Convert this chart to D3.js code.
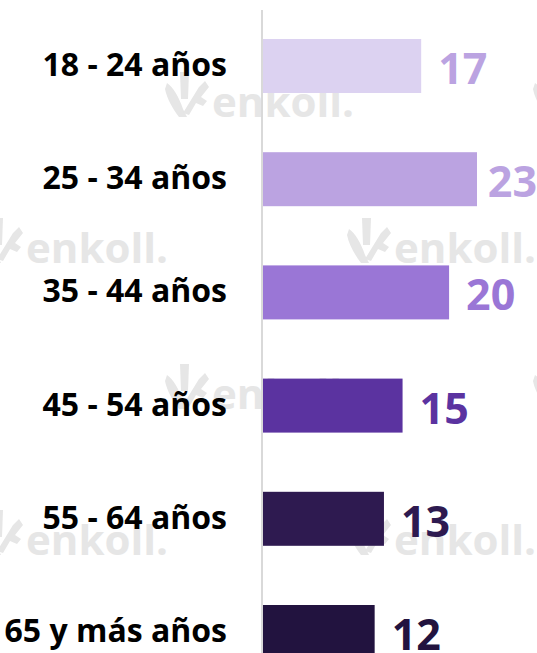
<!DOCTYPE html>
<html>
<head>
<meta charset="utf-8">
<script src="https://cdn.jsdelivr.net/npm/d3@7"></script>
<style>
  html, body { margin: 0; padding: 0; background: #fff; }
  svg { display: block; }
</style>
</head>
<body>
<div id="chart"></div>
<script>
// age groups and share of answers
const categories = ["18 - 24 años", "25 - 34 años", "35 - 44 años", "45 - 54 años", "55 - 64 años", "65 y más años"];
const values = [17, 23, 20, 15, 13, 12];
const barColors = ["#dcd2f1", "#bba3e1", "#9a76d6", "#5b33a0", "#2e1a50", "#22133f"];
const valueColors = ["#bba3e1", "#bba3e1", "#9a76d6", "#5b33a0", "#2e1a50", "#22133f"];

const w = 537;
const h = 653;

const svg = d3.select("#chart")
  .append("svg")
  .attr("width", w)
  .attr("height", h);

// watermark tiles (light gray logo)
const marks = [
  [165, 117], [533, 117],
  [-21, 263], [347, 263],
  [165, 409], [533, 409],
  [-21, 555], [347, 555]
];
const wm = svg.append("g").attr("fill", "#e6e6e6");
marks.forEach(m => {
  const g = wm.append("g").attr("transform", `translate(${m[0]}, ${m[1]})`);
  // left leaf
  g.append("path")
    .attr("d", "M2,-34 C8,-30 14,-20 18,-8 L22,0 L14,0 C8,-8 2,-18 0,-28 Z");
  // stem
  g.append("path")
    .attr("d", "M15,-45 L24,-45 L23,-18 L16,-18 Z");
  // right stroke with notch
  g.append("path")
    .attr("d", "M18,-4 L34,-30 L40,-36 L44,-30 L36,-20 L42,-16 L38,-11 L31,-14 L24,-2 Z");
  g.append("text")
    .attr("x", 47)
    .attr("y", 0)
    .attr("font-family", "'Open Sans', sans-serif")
    .attr("font-weight", 700)
    .attr("font-size", 42)
    .text("enkoll.");
});

// scales
const yScale = d3.scaleBand()
  .domain(categories)
  .range([9.4, 688.6])
  .paddingInner(0.523)
  .paddingOuter(0.2615);

const xScale = d3.scaleLinear()
  .domain([0, 23])
  .range([263, 477]);

// category axis line
svg.append("line")
  .attr("x1", 262).attr("x2", 262)
  .attr("y1", 10).attr("y2", h)
  .attr("stroke", "#d9d9d9")
  .attr("stroke-width", 2);

// bars
svg.selectAll("rect.bar")
  .data(values)
  .enter()
  .append("rect")
    .attr("class", "bar")
    .attr("x", xScale(0))
    .attr("y", (d, i) => yScale(categories[i]))
    .attr("width", d => xScale(d) - xScale(0))
    .attr("height", yScale.bandwidth())
    .attr("fill", (d, i) => barColors[i]);

// category labels
svg.selectAll("text.cat")
  .data(categories)
  .enter()
  .append("text")
    .attr("class", "cat")
    .attr("text-anchor", "end")
    .attr("x", 227)
    .attr("y", d => yScale(d) + yScale.bandwidth() / 2 + 10)
    .attr("font-family", "'Open Sans', sans-serif")
    .attr("font-weight", 700)
    .attr("font-size", 32)
    .attr("fill", "#000")
    .text(d => d);

// value labels, kept inside the picture
svg.selectAll("text.val")
  .data(values)
  .enter()
  .append("text")
    .attr("class", "val")
    .attr("y", (d, i) => yScale(categories[i]) + yScale.bandwidth() / 2 + 18)
    .attr("font-family", "'Open Sans', sans-serif")
    .attr("font-weight", 700)
    .attr("font-size", 43)
    .attr("fill", (d, i) => valueColors[i])
    .text(d => d)
    .attr("x", function(d) {
      const tw = this.getComputedTextLength();
      return Math.min(xScale(d) + 17, w - tw);
    });
</script>
</body>
</html>
